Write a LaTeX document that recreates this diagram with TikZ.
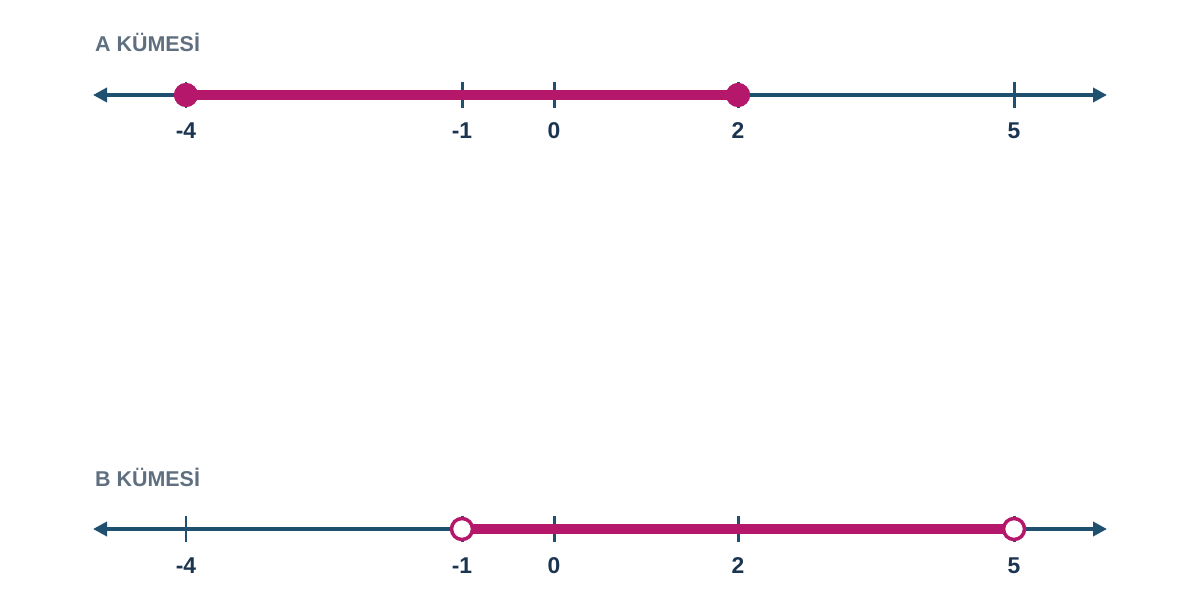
\documentclass[tikz,border=0pt]{standalone}
\usepackage{fontspec}
\setmainfont{Liberation Sans}
\usetikzlibrary{arrows.meta}
\definecolor{axisblue}{HTML}{1F5070}
\definecolor{setpink}{HTML}{B5186A}
\definecolor{titlegray}{HTML}{5F6F80}
\definecolor{labelnavy}{HTML}{1B3550}
\tikzset{
  axisline/.style={draw=axisblue,line width=2pt,{Triangle[length=0.28cm,width=0.28cm]}-{Triangle[length=0.28cm,width=0.28cm]}},
  tickmark/.style={draw=axisblue,line width=1.7pt},
  numlabel/.style={text=labelnavy,font=\bfseries\fontsize{13}{15}\selectfont},
  settitle/.style={text=titlegray,font=\bfseries\fontsize{12.2}{14}\selectfont,anchor=west},
  segline/.style={draw=setpink,line width=5.2pt},
  closeddot/.style={circle,fill=setpink,inner sep=0pt,minimum size=0.48cm},
  opendot/.style={circle,draw=setpink,fill=white,line width=2pt,inner sep=0pt,minimum size=0.42cm}
}
\begin{document}
\begin{tikzpicture}
    \useasboundingbox (0,0) rectangle (24,12);
    %% A set
    \node[settitle] (Atitle) at (1.78,11.16) {A KÜMESİ};
    \coordinate (Aleft) at (1.86,10.1);
    \coordinate (Aright) at (22.14,10.1);
    \draw[axisline] (Aleft) -- (Aright);
    \foreach \v in {-4,-1,0,2,5} {
        \draw[tickmark] (11.08+1.84*\v,9.84) -- (11.08+1.84*\v,10.36);
        \node[numlabel] (Alab\v) at (11.08+1.84*\v,9.38) {\v};
    }
    \node[closeddot] (Aa) at (11.08-1.84*4,10.1) {};
    \node[closeddot] (Ab) at (11.08+1.84*2,10.1) {};
    \draw[segline] (Aa.center) -- (Ab.center);
    \node[closeddot] at (Aa) {};
    \node[closeddot] at (Ab) {};
    %% B set
    \node[settitle] (Btitle) at (1.78,2.46) {B KÜMESİ};
    \coordinate (Bleft) at (1.86,1.42);
    \coordinate (Bright) at (22.14,1.42);
    \draw[axisline] (Bleft) -- (Bright);
    \foreach \v in {-4,-1,0,2,5} {
        \draw[tickmark] (11.08+1.84*\v,1.16) -- (11.08+1.84*\v,1.68);
        \node[numlabel] (Blab\v) at (11.08+1.84*\v,0.68) {\v};
    }
    \coordinate (Ba) at (11.08-1.84*1,1.42);
    \coordinate (Bb) at (11.08+1.84*5,1.42);
    \draw[segline] (Ba) -- (Bb);
    \node[opendot] (Bao) at (Ba) {};
    \node[opendot] (Bbo) at (Bb) {};
\end{tikzpicture}
\end{document}
